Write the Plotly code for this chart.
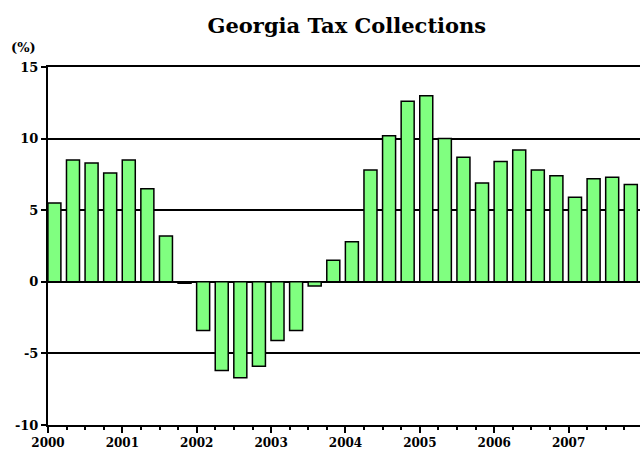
import plotly.graph_objects as go

quarters = [f"{y}Q{q}" for y in range(2000, 2008) for q in range(1, 5)]
values = [5.5, 8.5, 8.3, 7.6,
          8.5, 6.5, 3.2, -0.1,
          -3.4, -6.2, -6.7, -5.9,
          -4.1, -3.4, -0.3, 1.5,
          2.8, 7.8, 10.2, 12.6,
          13.0, 10.0, 8.7, 6.9,
          8.4, 9.2, 7.8, 7.4,
          5.9, 7.2, 7.3, 6.8]
year_ticks = list(range(2000, 2008))
y_ticks = [-10, -5, 0, 5, 10, 15]

# bar position: quarter start + ~1 month
xpos = [int(q[:4]) + (int(q[-1]) - 1) * 0.25 + 0.086 for q in quarters]

FONT = "DejaVu Serif"

fig = go.Figure()
fig.add_trace(go.Bar(
    x=xpos, y=values, width=0.175,
    marker=dict(color="#80FF80", line=dict(color="black", width=1.5)),
    hoverinfo="skip",
))

fig.update_layout(
    width=640, height=450,
    margin=dict(l=48, r=0, t=67, b=25),
    paper_bgcolor="white", plot_bgcolor="white",
    showlegend=False,
    title=dict(text="<b>Georgia Tax Collections</b>", x=0.542, xanchor="center",
               y=1 - 26 / 450, yanchor="middle", yref="container",
               font=dict(family=FONT, size=21, color="black")),
    xaxis=dict(range=[2000, 2007.96], tickmode="array", tickvals=year_ticks,
               ticktext=[f"<b>{y}</b>" for y in year_ticks],
               ticks="outside", ticklen=6, tickwidth=1.5, tickcolor="black",
               minor=dict(dtick=0.25, tick0=2000, ticks="outside", ticklen=3,
                          tickwidth=1.5, tickcolor="black", showgrid=False),
               showline=True, linecolor="black", linewidth=2, mirror=True,
               showgrid=False, zeroline=False,
               tickfont=dict(family=FONT, size=12, color="black")),
    yaxis=dict(range=[-10, 15], tickmode="array", tickvals=y_ticks,
               ticktext=[f"<b>{v}</b>" for v in y_ticks],
               ticks="outside", ticklen=5, tickwidth=1.5, tickcolor="black",
               showline=True, linecolor="black", linewidth=2,
               showgrid=True, gridcolor="black", gridwidth=1.5,
               zeroline=True, zerolinecolor="black", zerolinewidth=1.5,
               tickfont=dict(family=FONT, size=13, color="black")),
    annotations=[dict(text="<b>(%)</b>", xref="paper", yref="paper",
                      x=-0.066, y=1.027, xanchor="left", yanchor="bottom",
                      showarrow=False, font=dict(family=FONT, size=13, color="black"))],
)

fig.write_html("out.html")
